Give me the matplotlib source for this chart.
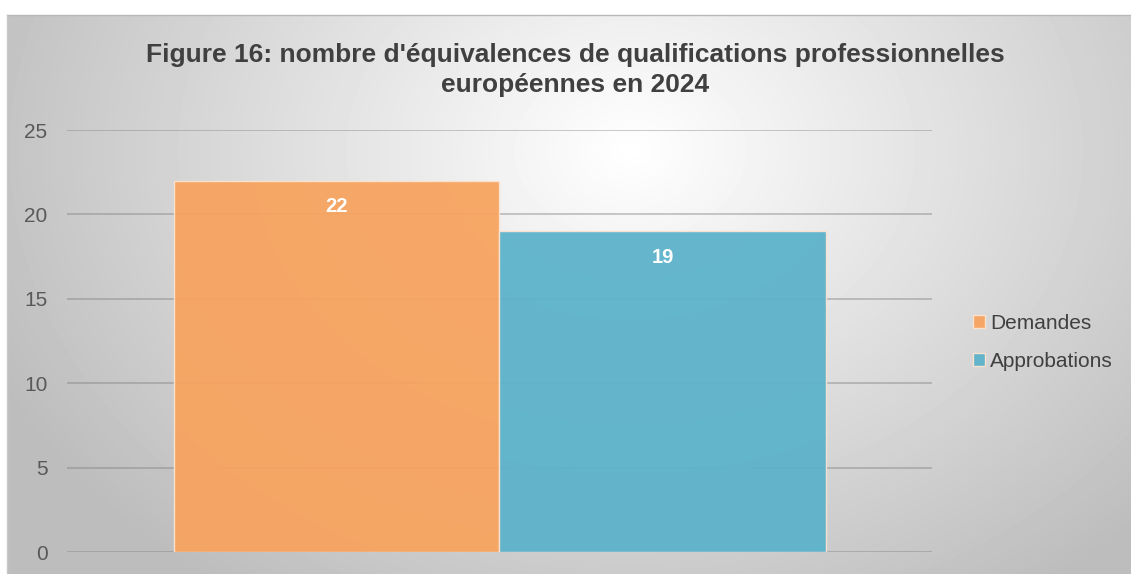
import numpy as np
import matplotlib
matplotlib.use("Agg")
import matplotlib.pyplot as plt

plt.rcParams['font.family'] = ['Liberation Sans', 'DejaVu Sans']

title = "Figure 16: nombre d'équivalences de qualifications professionnelles\neuropéennes en 2024"
series = ["Demandes", "Approbations"]
values = [22, 19]
colors = ["#F7A460", "#5DB3CB"]
yticks = [0, 5, 10, 15, 20, 25]

W, H = 1131, 574
fig = plt.figure(figsize=(W / 100, H / 100), dpi=100)

# radial gradient background of the chart area
bg = fig.add_axes([7 / W, 0, 1 - 7 / W, 1 - 15 / H])
yy, xx = np.mgrid[15:H, 7:W]
r = np.sqrt(((xx - 630) / 560.0) ** 2 + ((yy - 150) / 430.0) ** 2)
shade = 1 - 0.26 * np.clip(r, 0, 1.25) / 1.25
bg.imshow(shade, cmap='gray', vmin=0, vmax=1, aspect='auto',
          interpolation='bilinear')
bg.set_axis_off()
fig.add_artist(plt.Line2D([7 / W, 1], [1 - 15 / H] * 2, color='#b8b8b8', lw=1))
fig.add_artist(plt.Line2D([7 / W] * 2, [0, 1 - 15 / H], color='#c8c8c8', lw=1))

ax = fig.add_axes([67 / W, 1 - 552 / H, (932 - 67) / W, (552 - 130) / H])
ax.set_facecolor('none')
ax.set_xlim(-0.5, 0.5)
ax.set_ylim(0, 25)

ax.set_yticks(yticks)
ax.yaxis.grid(True, color='#808080', alpha=0.45, lw=1.3)
ax.set_axisbelow(True)
ax.tick_params(axis='y', length=0, pad=14, labelsize=15, labelcolor='#595959')
ax.set_xticks([])
for s in ax.spines.values():
    s.set_visible(False)

bw = 326 / 865
xs = [-bw / 2, bw / 2]
for x, v, c, lab in zip(xs, values, colors, series):
    ax.bar(x, v, width=bw, color=c, alpha=0.95, edgecolor='#fbe3cf', lw=1,
           label=lab, zorder=3)
    ax.text(x, v - 1.55, str(v), ha='center', va='center', color='white',
            fontsize=14.5, fontweight='bold', zorder=4)

fig.text(575 / W, 1 - 70 / H, title, ha='center', va='center', fontsize=19,
         fontweight='bold', color='#404040', linespacing=1.33)

leg = ax.legend(loc='center left', bbox_to_anchor=(1.038, 0.497),
                frameon=False, fontsize=15, handlelength=0.55, handleheight=0.55,
                handletextpad=0.25, labelspacing=0.92, borderaxespad=0)
for t in leg.get_texts():
    t.set_color('#404040')

fig.savefig("out.png", dpi=100)
